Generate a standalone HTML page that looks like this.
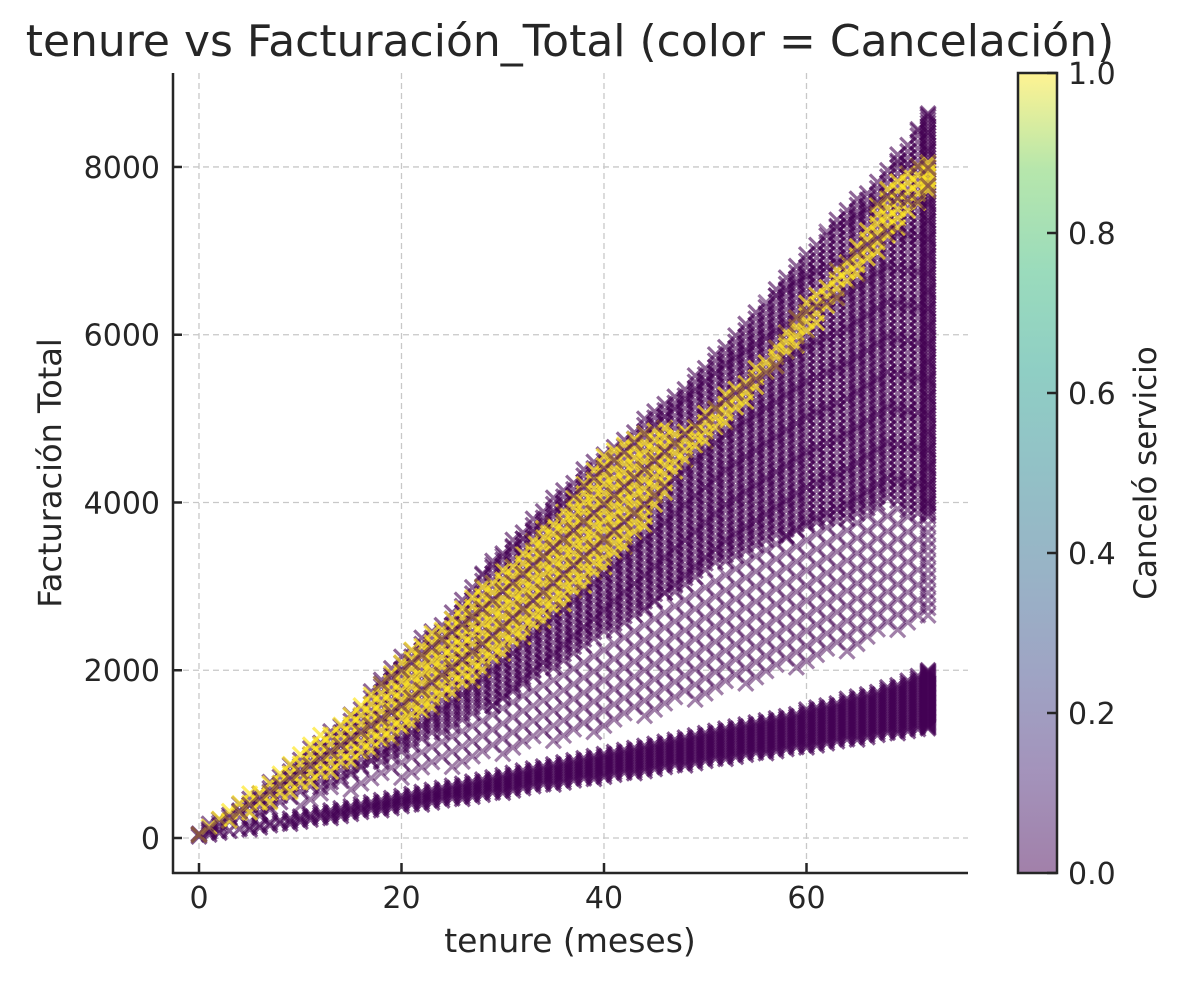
<!DOCTYPE html>
<html><head><meta charset="utf-8">
<style>
html,body{margin:0;padding:0;background:#fff;}
svg text{font-family:"DejaVu Sans","Liberation Sans",sans-serif;fill:#262626;}
</style></head>
<body>
<svg id="chart" width="1185" height="980" viewBox="0 0 1185 980" xmlns="http://www.w3.org/2000/svg">
<defs>
<linearGradient id="viridis" x1="0" y1="1" x2="0" y2="0">
<stop offset="0" stop-color="#440154"/><stop offset="0.13" stop-color="#482878"/>
<stop offset="0.25" stop-color="#3e4989"/><stop offset="0.38" stop-color="#31688e"/>
<stop offset="0.5" stop-color="#26828e"/><stop offset="0.63" stop-color="#1f9e89"/>
<stop offset="0.75" stop-color="#35b779"/><stop offset="0.88" stop-color="#6ece58"/>
<stop offset="1" stop-color="#fde725"/>
</linearGradient>
</defs>
<text x="570" y="56" font-size="44" text-anchor="middle">tenure vs Facturación_Total (color = Cancelación)</text>
<g id="grid"></g>
<g id="marks"></g>
<g id="axes"></g>
<text x="570" y="952" font-size="33" text-anchor="middle">tenure (meses)</text>
<text transform="translate(61,473) rotate(-90)" font-size="32" text-anchor="middle">Facturación Total</text>
<g>
<rect x="1018" y="73" width="39" height="800" fill="#fff"/>
<rect x="1018" y="73" width="39" height="800" fill="url(#viridis)" opacity="0.5"/>
<rect x="1018" y="73" width="39" height="800" fill="none" stroke="#262626" stroke-width="2.5"/>
<g id="cbticks"></g>
<text transform="translate(1156,473) rotate(-90)" font-size="31" text-anchor="middle">Canceló servicio</text>
</g>
</svg>
<script>
const tenure   = [0,4,8,12,16,20,24,28,32,36,40,44,48,52,56,60,64,68,72];
const lowMin   = [20,80,150,220,290,360,430,500,580,650,720,790,860,940,1010,1080,1150,1230,1300];
const lowMax   = [60,130,230,330,430,520,620,720,820,920,1020,1110,1210,1310,1420,1530,1660,1800,2000];
const highMin  = [40,150,300,450,600,700,800,900,1050,1150,1300,1450,1600,1750,1900,2050,2200,2400,2600];
const denseMin = [40,200,400,600,800,1000,1250,1500,1800,2100,2400,2700,3000,3300,3500,3700,3800,4000,3800];
const highMax  = [100,420,780,1200,1600,2200,2600,3200,3700,4200,4600,5000,5400,5900,6400,7000,7500,8000,8650];
const churnMin = [40,200,450,700,950,1250,1650,1950,2350,2750,3200,3700,4500,4950,5450,5950,6550,7100,7700];
const churnMax = [120,420,850,1250,1600,2150,2550,3000,3450,3950,4650,4900,4900,5300,5700,6400,6900,7800,8100];
const xTicks = [0,20,40,60];
const yTicks = [0,2000,4000,6000,8000];
const cbTicks = ["0.0","0.2","0.4","0.6","0.8","1.0"];

const NS="http://www.w3.org/2000/svg";
const X=v=>199+v*10.125;
const Y=v=>838-v*0.08388;
function el(tag,attrs,parent){const e=document.createElementNS(NS,tag);for(const k in attrs)e.setAttribute(k,attrs[k]);parent.appendChild(e);return e;}
const grid=document.getElementById('grid'),axes=document.getElementById('axes'),marks=document.getElementById('marks'),cb=document.getElementById('cbticks');

xTicks.forEach(t=>{
  const g=el('line',{x1:X(t),x2:X(t),y1:73,y2:873,stroke:'#c8c8c8','stroke-dasharray':'6,4','stroke-width':1.3},grid);
  
  
  el('line',{x1:X(t),x2:X(t),y1:863,y2:873,stroke:'#262626','stroke-width':2.5},axes);
  const tx=el('text',{x:X(t),y:908,'font-size':30,'text-anchor':'middle'},axes);tx.textContent=t;
  
  
});
yTicks.forEach(t=>{
  const g=el('line',{x1:173,x2:968,y1:Y(t),y2:Y(t),stroke:'#c8c8c8','stroke-dasharray':'6,4','stroke-width':1.3},grid);
  
  
  el('line',{x1:173,x2:182,y1:Y(t),y2:Y(t),stroke:'#262626','stroke-width':2.5},axes);
  const tx=el('text',{x:160,y:Y(t)+11,'font-size':30,'text-anchor':'end'},axes);tx.textContent=t;
  
  
});
el('line',{x1:173,x2:173,y1:73,y2:874,stroke:'#262626','stroke-width':2.5},axes);
el('line',{x1:172,x2:968,y1:873,y2:873,stroke:'#262626','stroke-width':2.5},axes);

cbTicks.forEach((t,i)=>{
  const y=873-i*160;
  el('line',{x1:1047,x2:1057,y1:y,y2:y,stroke:'#262626','stroke-width':2.5},cb);
  const tx=el('text',{x:1068,y:y+11,'font-size':30},cb);tx.textContent=t;
  
  
});

function rangeAt(arr,t){
  for(let i=0;i<tenure.length-1;i++){
    if(t>=tenure[i]&&t<=tenure[i+1]){const f=(t-tenure[i])/(tenure[i+1]-tenure[i]);return arr[i]+(arr[i+1]-arr[i])*f;}
  }
  return arr[arr.length-1];
}
function cross(x,y,color,op){
  const s=7.5;
  const p=el('path',{d:`M${x-s},${y-s}L${x+s},${y+s}M${x-s},${y+s}L${x+s},${y-s}`,stroke:color,'stroke-width':3.2,'stroke-opacity':op},marks);
  
  
}
function band(minA,maxA,step,color,op,offset){
  for(let t=0;t<=72;t++){
    const a=rangeAt(minA,t),b=rangeAt(maxA,t);
    const st=(t===72)?step/2:step;
    for(let v=a+((t*offset)%st);v<=b;v+=st) cross(X(t),Y(v),color,op);
  }
}
const purple='#440154',yellow='#fde725';
band(lowMin,lowMax,30,purple,0.65,7);
band(highMin,denseMin,180,purple,0.5,37);
band(denseMin,highMax,75,purple,0.6,13);
band(churnMin,churnMax,110,yellow,0.7,53);
band(denseMin,highMax,420,purple,0.5,29);
</script>
</body></html>
